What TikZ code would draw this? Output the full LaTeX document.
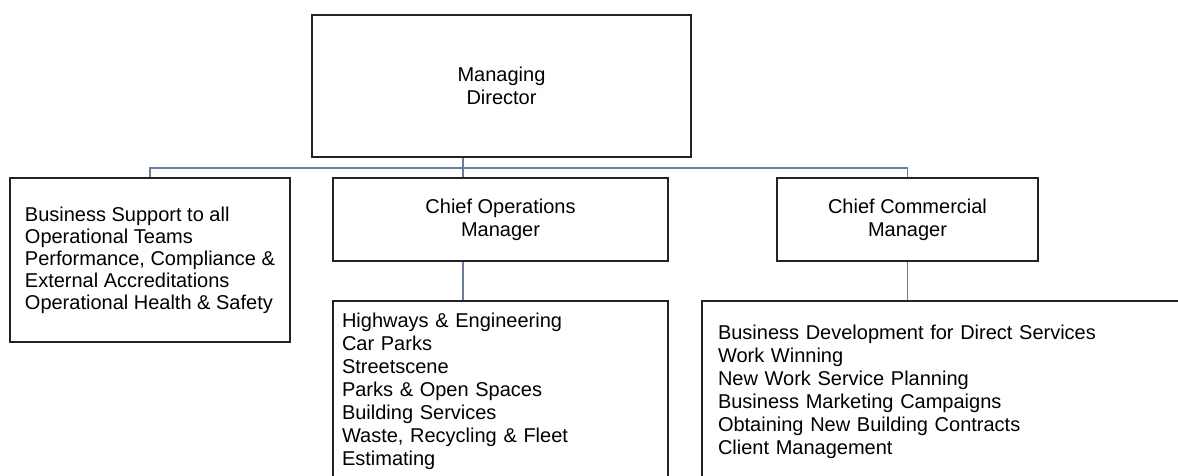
\documentclass[tikz,border=0pt]{standalone}
\usepackage{fontspec}
\setmainfont{Liberation Sans}
\definecolor{linkblue}{RGB}{105,125,170}
\definecolor{boxline}{RGB}{35,35,35}
\tikzset{
  post/.style={draw=boxline, line width=1.4pt, inner sep=0pt, minimum height=#1},
  listpost/.style={post=#1, align=left, anchor=center},
  link/.style={draw=linkblue, line width=1.1pt}
}
\begin{document}
\begin{tikzpicture}[x=1pt, y=-1pt, font=\fontsize{20}{23}\selectfont]
            \clip (0,0) rectangle (1178,475);
            \fill[white] (0,0) rectangle (1178,475);
            \node[post=142pt, minimum width=379pt, align=center] at (501.5,86) (md) {Managing\\Director};
            \node[post=164pt, minimum width=280pt, align=left, font=\fontsize{20}{22}\selectfont] at (150,260) (support) {Business Support to all\\Operational Teams\\Performance, Compliance \&\\External Accreditations\\Operational Health \& Safety};
            \node[post=83pt, minimum width=335pt, align=center] at (500.5,219.5) (ops) {Chief Operations\\Manager};
            \node[post=83pt, minimum width=261pt, align=center] at (907.5,219.5) (com) {Chief Commercial\\Manager};
            \node[listpost=181pt, minimum width=335pt, text width=317pt] at (500.5,391.5) (opslist) {Highways \& Engineering\\Car Parks\\Streetscene\\Parks \& Open Spaces\\Building Services\\Waste, Recycling \& Fleet\\Estimating};
            \node[listpost=181pt, minimum width=488pt, text width=456pt] at (946,391.5) (comlist) {Business Development for Direct Services\\Work Winning\\New Work Service Planning\\Business Marketing Campaigns\\Obtaining New Building Contracts\\Client Management};
            \coordinate (tap) at (463,168);
            \draw[link] (md.south -| tap) -- (tap);
            \draw[link] (support.north) -- (support.north |- tap) -- (com.north |- tap) -- (com.north);
            \draw[link] (tap) -- (ops.north -| tap);
            \draw[link] (ops.south -| tap) -- (opslist.north -| tap);
            \draw[link] (com.south) -- (comlist.north -| com);
        \end{tikzpicture}
\end{document}
